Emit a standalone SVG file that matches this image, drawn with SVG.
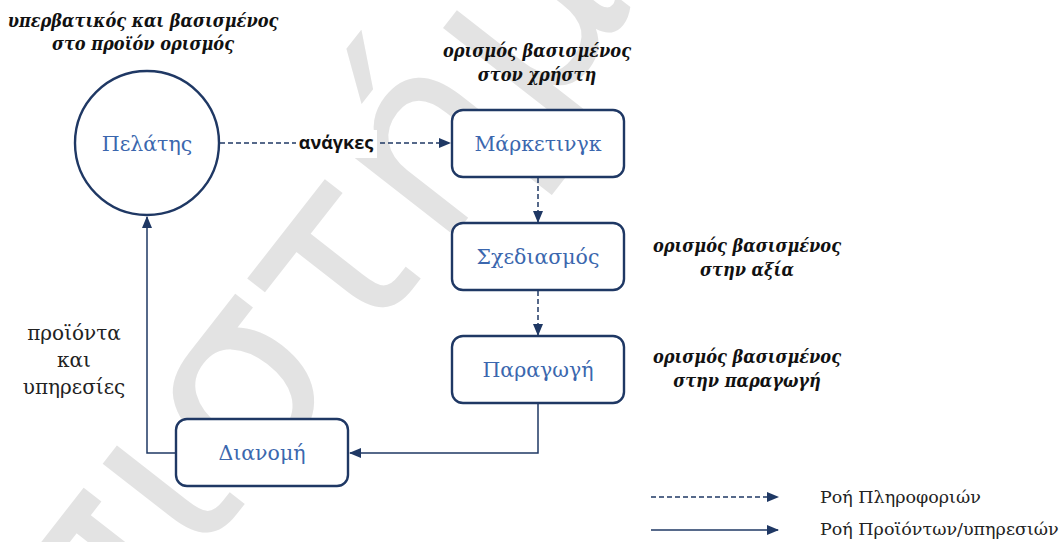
<svg xmlns="http://www.w3.org/2000/svg" width="1063" height="542" viewBox="0 0 1063 542">
  <style>
    .wm{font-family:"DejaVu Sans",sans-serif;font-size:250px;fill:#e3e3e3}
    .node{fill:#fff;stroke:#1f3864;stroke-width:2.4}
    .lbl{font-family:"DejaVu Serif",serif;font-size:20.5px;fill:#3b67ae;text-anchor:middle}
    .note{font-family:"DejaVu Serif Condensed","DejaVu Serif",serif;font-stretch:condensed;font-size:18px;font-weight:bold;font-style:italic;fill:#111;text-anchor:middle}
    .side{font-family:"DejaVu Serif",serif;font-size:20px;fill:#222;text-anchor:middle}
    .leg{font-family:"DejaVu Serif",serif;font-size:17.5px;fill:#222}
    .tag{font-family:"Open Sans",sans-serif;font-size:18px;font-weight:bold;fill:#111;text-anchor:middle}
    .info{fill:none;stroke:#1f3864;stroke-width:1.5;stroke-dasharray:5 3}
    .flow{fill:none;stroke:#1f3864;stroke-width:1.5}
  </style>
  <defs>
    <marker id="ah" markerWidth="12" markerHeight="10" refX="11" refY="5" orient="auto" markerUnits="userSpaceOnUse">
      <path d="M0,0 L12,5 L0,10 z" fill="#1f3864"/>
    </marker>
  </defs>

  <rect width="1063" height="542" fill="#fff"/>

  <!-- background watermark -->
  <text class="wm" transform="translate(250,385) rotate(-52)" x="-951" y="69">Πανεπιστήμιο</text>

  <!-- annotations -->
  <g id="notes">
    <text class="note" x="143" y="27">υπερβατικός και  βασισμένος</text>
    <text class="note" x="143" y="50">στο προϊόν ορισμός</text>
    <text class="note" x="537" y="57">ορισμός βασισμένος</text>
    <text class="note" x="537" y="81">στον χρήστη</text>
    <text class="note" x="747" y="252">ορισμός βασισμένος</text>
    <text class="note" x="747" y="276">στην αξία</text>
    <text class="note" x="747" y="363">ορισμός βασισμένος</text>
    <text class="note" x="747" y="387">στην παραγωγή</text>
    <text class="side" x="74" y="340">προϊόντα</text>
    <text class="side" x="74" y="367">και</text>
    <text class="side" x="74" y="394">υπηρεσίες</text>
  </g>

  <!-- connectors -->
  <g id="connectors">
    <path class="info" d="M220,143 H450" marker-end="url(#ah)"/>
    <rect x="296" y="130" width="81" height="28" fill="#fff"/>
    <text class="tag" x="336" y="149">ανάγκες</text>
    <path class="info" d="M538,178 V222" marker-end="url(#ah)"/>
    <path class="info" d="M538,291 V335" marker-end="url(#ah)"/>
    <path class="flow" d="M538,403 V453 H350" marker-end="url(#ah)"/>
    <path class="flow" d="M176,453 H147 V217" marker-end="url(#ah)"/>
  </g>

  <!-- nodes -->
  <g id="customer">
    <circle class="node" cx="147" cy="143" r="72"/>
    <text class="lbl" x="147" y="151">Πελάτης</text>
  </g>
  <g id="marketing">
    <rect class="node" x="452" y="110" width="172" height="67" rx="11"/>
    <text class="lbl" x="538" y="151">Μάρκετινγκ</text>
  </g>
  <g id="design">
    <rect class="node" x="452" y="223" width="172" height="67" rx="11"/>
    <text class="lbl" x="538" y="264">Σχεδιασμός</text>
  </g>
  <g id="production">
    <rect class="node" x="452" y="336" width="172" height="67" rx="11"/>
    <text class="lbl" x="538" y="377">Παραγωγή</text>
  </g>
  <g id="distribution">
    <rect class="node" x="176" y="419" width="172" height="67" rx="11"/>
    <text class="lbl" x="262" y="460">Διανομή</text>
  </g>

  <!-- legend -->
  <g id="legend">
    <path class="info" d="M651,497 H778" marker-end="url(#ah)"/>
    <path class="flow" d="M651,530 H778" marker-end="url(#ah)"/>
    <text class="leg" x="820" y="503">Ροή Πληροφοριών</text>
    <text class="leg" x="820" y="535">Ροή Προϊόντων/υπηρεσιών</text>
  </g>
</svg>
